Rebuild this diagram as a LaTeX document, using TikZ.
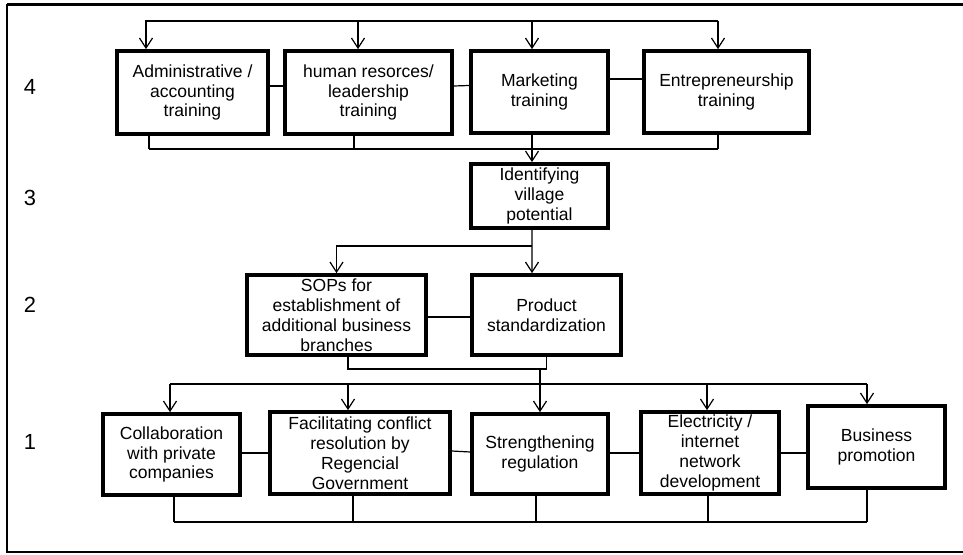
\documentclass[tikz,border=0pt]{standalone}
\usepackage{fontspec}
\setmainfont{Liberation Sans}
\usetikzlibrary{arrows.meta, calc}
\tikzset{
    stepbox/.style={
        rectangle,
        draw=black,
        line width=4bp,
        align=center,
        inner sep=0pt,
        font=\fontsize{17.6}{20}\selectfont,
    },
    link/.style={
        draw=black,
        line width=1.2bp,
    },
    level/.style={
        font=\fontsize{22}{24}\selectfont,
    },
}
\begin{document}
\begin{tikzpicture}[x=1bp,y=-1bp,>={Straight Barb[length=10bp,width=13bp]}]
    \useasboundingbox (0,0) rectangle (963,555);
    % frame
    \draw[line width=3bp] (7,5) -- (963,5);
    \draw[line width=2bp] (963,552) -- (7,552) -- (7,4);

    % level numbers
    \node [level] (l4) at (30,87) {4};
    \node [level] (l3) at (30,198) {3};
    \node [level] (l2) at (30,305) {2};
    \node [level] (l1) at (30,442) {1};

    % level 4
    \node [stepbox, minimum width=151, minimum height=83] (adm) at (192.5,92.5) {Administrative /\\accounting\\training};
    \node [stepbox, minimum width=167, minimum height=83] (hum) at (368.5,92.5) {human resorces/\\leadership\\training};
    \node [stepbox, minimum width=137, minimum height=82] (mkt) at (539.5,92) {Marketing\\training};
    \node [stepbox, minimum width=165, minimum height=82] (ent) at (726.5,92) {Entrepreneurship\\training};

    % level 3
    \node [stepbox, minimum width=137, minimum height=64] (idv) at (539.5,196) {Identifying\\village\\potential};

    % level 2
    \node [stepbox, minimum width=179, minimum height=80] (sop) at (336.5,315) {SOPs for\\establishment of\\additional business\\branches};
    \node [stepbox, minimum width=149, minimum height=80] (prd) at (546.5,315) {Product\\standardization};

    % level 1
    \node [stepbox, minimum width=137, minimum height=81] (col) at (171.5,454.5) {Collaboration\\with private\\companies};
    \node [stepbox, minimum width=180, minimum height=82] (fac) at (360,453) {Facilitating conflict\\resolution by\\Regencial\\Government};
    \node [stepbox, minimum width=136, minimum height=80] (str) at (540,454) {Strengthening\\regulation};
    \node [stepbox, minimum width=138, minimum height=82] (ele) at (710,453) {Electricity /\\internet\\network\\development};
    \node [stepbox, minimum width=137, minimum height=82] (bus) at (876.5,447) {Business\\promotion};

    \coordinate (in4) at (718,21);
    \coordinate (out4) at (0,149);
    \coordinate (out3) at (0,246);
    \coordinate (out2) at (0,369);
    \coordinate (in1) at (0,384);
    \coordinate (out1) at (0,522);

    % side links
    \draw[link] ([yshift=6.5bp]adm.east) -- ([yshift=6.5bp]hum.west);
    \draw[link] ([yshift=6.5bp]hum.east) -- ([yshift=6.5bp]mkt.west);
    \draw[link] ([yshift=13bp]mkt.east) -- ([yshift=13bp]ent.west);
    \draw[link] ([yshift=-2bp]sop.east) -- ([yshift=-2bp]prd.west);
    \draw[link] (col.east |- fac.west) -- (fac.west);
    \draw[link] ([yshift=2bp]fac.east) -- ([yshift=2bp]str.west);
    \draw[link] (ele.west -| str.east) -- (ele.west);
    \draw[link] (ele.east) -- (ele.east -| bus.west);

    % level 4 in and out
    \draw[link,->] (in4) -| ([xshift=-46.5bp]adm.north);
    \foreach \n/\dx in {hum/-10.5, mkt/-7.5, ent/-8.5}
        \draw[link,->] ([xshift=\dx bp]\n.north |- in4) -- ([xshift=\dx bp]\n.north);
    \foreach \n/\dx in {adm/-43.5, hum/-14.5, ent/-8.5}
        \draw[link] ([xshift=\dx bp]\n.south) -- ([xshift=\dx bp]\n.south |- out4);
    \draw[link] ([xshift=-43.5bp]adm.south |- out4) -- ([xshift=-8.5bp]ent.south |- out4);
    \draw[link,->] ([xshift=-7.5bp]mkt.south) -- ([xshift=-7.5bp]idv.north);

    % level 3 to 2
    \draw[link,->] ([xshift=-7.5bp]idv.south) -- ([xshift=-14.5bp]prd.north);
    \draw[link,->] ([xshift=-7.5bp]idv.south |- out3) -| (sop.north);

    % level 2 to 1
    \draw[link] ([xshift=11.5bp]sop.south) |- (prd.south |- out2) -- (prd.south);
    \draw[link,->] (str.north |- out2) -- (str.north);
    \draw[link] ([xshift=-1.5bp]col.north |- in1) -- ([xshift=-9.5bp]bus.north |- in1);
    \foreach \n/\dx in {col/-1.5, fac/-12, ele/-3, bus/-9.5}
        \draw[link,->] ([xshift=\dx bp]\n.north |- in1) -- ([xshift=\dx bp]\n.north);

    % level 1 out
    \foreach \n/\dx in {col/2.5, fac/-7, str/-4, ele/-2, bus/-9.5}
        \draw[link] ([xshift=\dx bp]\n.south) -- ([xshift=\dx bp]\n.south |- out1);
    \draw[link] ([xshift=2.5bp]col.south |- out1) -- ([xshift=-9.5bp]bus.south |- out1);
\end{tikzpicture}
\end{document}
